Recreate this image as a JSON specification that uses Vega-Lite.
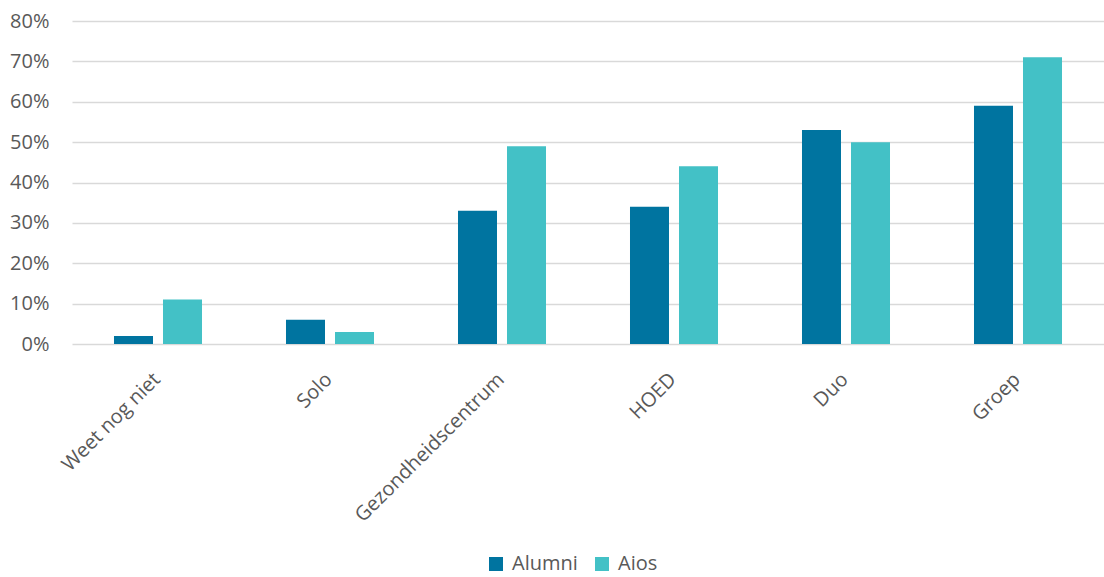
{
  "$schema": "https://vega.github.io/schema/vega-lite/v6.json",
  "width": 1032,
  "height": 323,
  "autosize": {"type": "none"},
  "padding": {"left": 72, "top": 21, "right": 0, "bottom": 233},
  "background": "white",
  "config": {
    "view": {"stroke": null},
    "font": "Open Sans",
    "axis": {"labelFont": "Open Sans", "labelColor": "#595959"},
    "legend": {"labelFont": "Open Sans"}
  },
  "data": {
    "values": [
      {"category": "Weet nog niet", "group": "Alumni", "value": 0.02},
      {"category": "Weet nog niet", "group": "Aios", "value": 0.11},
      {"category": "Solo", "group": "Alumni", "value": 0.06},
      {"category": "Solo", "group": "Aios", "value": 0.03},
      {"category": "Gezondheidscentrum", "group": "Alumni", "value": 0.33},
      {"category": "Gezondheidscentrum", "group": "Aios", "value": 0.49},
      {"category": "HOED", "group": "Alumni", "value": 0.34},
      {"category": "HOED", "group": "Aios", "value": 0.44},
      {"category": "Duo", "group": "Alumni", "value": 0.53},
      {"category": "Duo", "group": "Aios", "value": 0.50},
      {"category": "Groep", "group": "Alumni", "value": 0.59},
      {"category": "Groep", "group": "Aios", "value": 0.71}
    ]
  },
  "mark": {"type": "bar"},
  "encoding": {
    "x": {
      "field": "category",
      "type": "nominal",
      "sort": ["Weet nog niet", "Solo", "Gezondheidscentrum", "HOED", "Duo", "Groep"],
      "scale": {"paddingInner": 0, "paddingOuter": 0},
      "axis": {
        "title": null,
        "domain": false,
        "ticks": false,
        "labelAngle": -45,
        "labelFontSize": 20,
        "labelPadding": 25,
        "labelOffset": -8,
        "labelLimit": 400
      }
    },
    "xOffset": {
      "field": "group",
      "type": "nominal",
      "sort": ["Alumni", "Aios"],
      "scale": {"paddingInner": 0.204, "paddingOuter": 0.857}
    },
    "y": {
      "field": "value",
      "type": "quantitative",
      "scale": {"domain": [0, 0.8], "nice": false},
      "axis": {
        "title": null,
        "format": ".0%",
        "values": [0, 0.1, 0.2, 0.3, 0.4, 0.5, 0.6, 0.7, 0.8],
        "domain": false,
        "ticks": false,
        "labelFontSize": 20,
        "labelPadding": 23,
        "gridColor": "#D9D9D9",
        "gridWidth": 1.3
      }
    },
    "color": {
      "field": "group",
      "type": "nominal",
      "sort": ["Alumni", "Aios"],
      "scale": {"domain": ["Alumni", "Aios"], "range": ["#0074A0", "#43C1C6"]},
      "legend": {
        "title": null,
        "orient": "none",
        "direction": "horizontal",
        "legendX": 414,
        "legendY": 533,
        "symbolType": "square",
        "symbolSize": 196,
        "symbolStrokeWidth": 0,
        "labelFontSize": 20,
        "labelColor": "#595959",
        "labelOffset": 6,
        "columnPadding": 14,
        "padding": 0
      }
    }
  }
}
